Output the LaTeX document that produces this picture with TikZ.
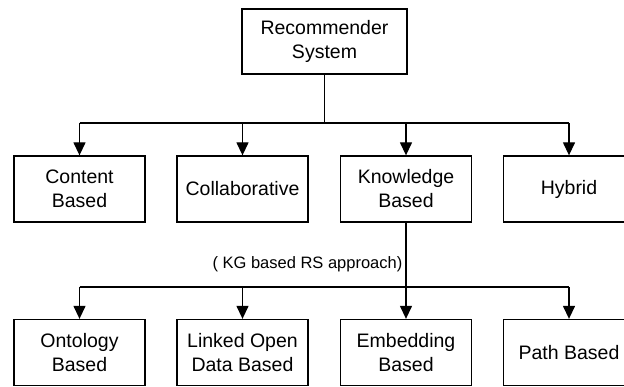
\documentclass[tikz,border=0pt]{standalone}
\usepackage{fontspec}
\setmainfont{Liberation Sans}
\usepackage{tikz}
\usetikzlibrary{arrows.meta}

\begin{document}
\begin{tikzpicture}[x=1pt, y=-1pt, line width=1.3pt,
    every node/.style={font=\fontsize{19.5}{24}\selectfont, align=center},
    rsbox/.style={draw, minimum width=131pt, minimum height=66pt, inner sep=0pt},
    down/.style={-{Triangle[width=12pt,length=13pt]}}]

    \useasboundingbox (0,0) rectangle (624,387);

    % Root
    \node[rsbox, minimum width=165pt, minimum height=65pt] (RS) at (324.5, 41.5) {Recommender\\System};

    % First level
    \node[rsbox] (CB) at (79.5, 189) {Content\\Based};
    \node[rsbox] (CF) at (242.5, 189) {Collaborative};
    \node[rsbox] (KB) at (406, 189) {Knowledge\\Based};
    \node[rsbox] (HY) at (569, 189) {Hybrid};

    % Second level (KG based)
    \node[rsbox] (ON) at (79.5, 352.5) {Ontology\\Based};
    \node[rsbox] (LD) at (242.5, 352.5) {Linked Open\\Data Based};
    \node[rsbox] (EM) at (406, 352.5) {Embedding\\Based};
    \node[rsbox] (PB) at (569, 352.5) {Path Based};

    \coordinate (B1) at (324.5, 123);
    \coordinate (B2) at (406, 287);

    % Root to first level
    \draw (RS.south) -- (B1);
    \draw (B1 -| CB) -- (B1 -| HY);
    \foreach \n in {CB, CF, KB, HY}
        \draw[down] (B1 -| \n) -- (\n.north);

    % Knowledge based to second level
    \draw (KB.south) -- (B2);
    \draw (B2 -| ON) -- (B2 -| PB);
    \foreach \n in {ON, LD, EM, PB}
        \draw[down] (B2 -| \n) -- (\n.north);

    \node[anchor=east, inner sep=0pt, font=\fontsize{16.5}{20}\selectfont] (KG) at (403, 264) {( KG based RS approach)};

\end{tikzpicture}
\end{document}
